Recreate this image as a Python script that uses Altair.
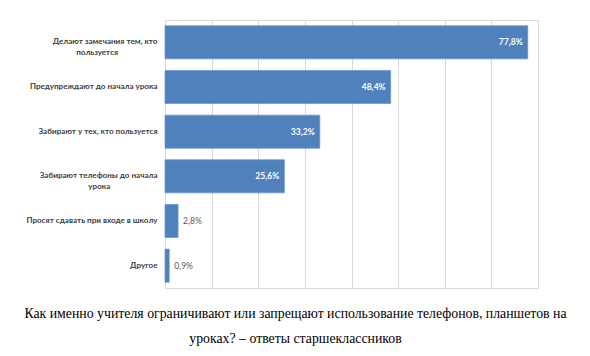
import altair as alt
import pandas as pd

NB = "\u00a0"
WJ = "\u2060"
categories = [
    "Делают замечания тем, кто\nпользуется" + NB * 20 + WJ,
    "Предупреждают до начала урока",
    "Забирают у тех, кто пользуется",
    "Забирают телефоны до начала\nурока" + NB * 24 + WJ,
    "Просят сдавать при входе в школу",
    "Другое",
]
values = [77.8, 48.4, 33.2, 25.6, 2.8, 0.9]

df = pd.DataFrame({"cat": categories, "val": values})
df["lab"] = [f"{v:.1f}".replace(".", ",") + "%" for v in values]

LF = "Lato"
y_enc = alt.Y(
    "cat:N",
    sort=categories,
    title=None,
    scale=alt.Scale(paddingInner=0.26, paddingOuter=0.13),
    axis=alt.Axis(
        labelExpr="split(datum.label, '\\n')",
        labelFont=LF,
        labelFontSize=8.1,
        labelFontWeight="bold",
        labelColor="#404040",
        labelLineHeight=11,
        labelPadding=8,
        ticks=False,
        domain=False,
        grid=False,
        labelLimit=300,
    ),
)
x_enc = alt.X(
    "val:Q",
    title=None,
    scale=alt.Scale(domain=[0, 80], nice=False),
    axis=alt.Axis(
        values=[0, 10, 20, 30, 40, 50, 60, 70, 80],
        labels=False,
        ticks=False,
        domain=False,
        grid=True,
        gridColor="#D9D9D9",
        gridWidth=1,
    ),
)

base = alt.Chart(df)
bars = base.mark_bar(color="#4F81BD", stroke="#6F97CB", strokeWidth=0.8).encode(x=x_enc, y=y_enc)
inside = base.transform_filter("datum.val > 10").mark_text(
    align="right", dx=-5, font=LF, fontSize=8.6, fontWeight="bold", color="white"
).encode(x="val:Q", y=alt.Y("cat:N", sort=categories), text="lab:N")
outside = base.transform_filter("datum.val <= 10").mark_text(
    align="left", dx=5, font=LF, fontSize=8.6, color="#595959"
).encode(x="val:Q", y=alt.Y("cat:N", sort=categories), text="lab:N")

chart = (
    alt.layer(bars, inside, outside)
    .properties(
        width=373,
        height=268,
        autosize=alt.AutoSizeParams(type="none"),
        padding={"left": 157, "top": 12, "right": 44, "bottom": 60},
        title=alt.TitleParams(
            text=[
                "Как именно учителя ограничивают или запрещают использование телефонов, планшетов на",
                "уроках? – ответы старшеклассников",
            ],
            orient="bottom",
            anchor="middle",
            frame="group",
            dx=-56,
            offset=19,
            font="Times New Roman, Liberation Serif, serif",
            fontSize=13.8,
            fontWeight="normal",
            color="#000000",
            lineHeight=25,
        ),
    )
    .configure_view(stroke=None)
    .configure(background="white")
)

chart.save("out.html", embed_options={"renderer": "svg", "actions": False})
